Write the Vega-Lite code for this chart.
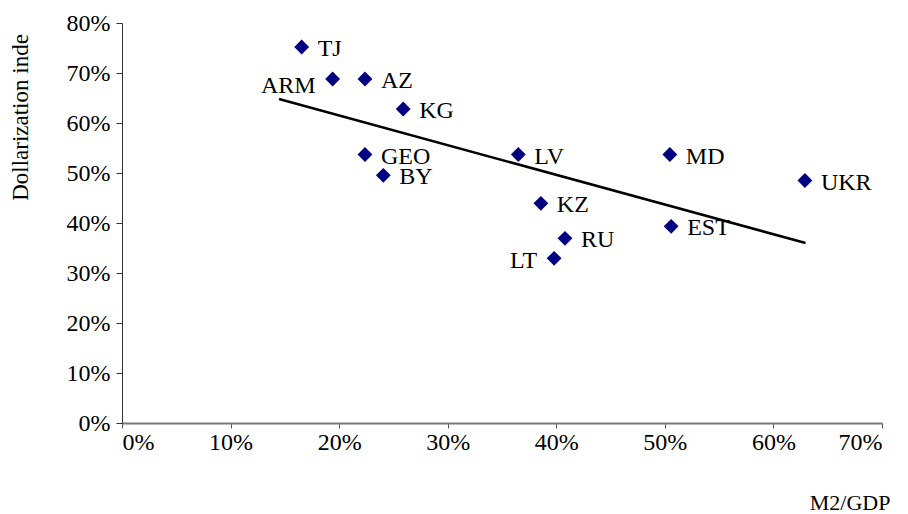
{
  "$schema": "https://vega.github.io/schema/vega-lite/v6.json",
  "width": 760,
  "height": 400,
  "autosize": {"type": "none"},
  "padding": {"left": 122, "top": 23, "right": 26, "bottom": 91},
  "background": "white",
  "config": {
    "view": {"stroke": null},
    "font": "Liberation Serif",
    "axis": {"grid": false, "labelFont": "Liberation Serif", "titleFont": "Liberation Serif", "labelFontSize": 24, "titleFontSize": 22, "titleFontWeight": "normal", "labelColor": "#000", "titleColor": "#000"}
  },
  "datasets": {
    "pts": [
      {"country": "TJ", "m2gdp": 0.1655, "dollar": 0.752},
      {"country": "ARM", "m2gdp": 0.194, "dollar": 0.688},
      {"country": "AZ", "m2gdp": 0.2238, "dollar": 0.688},
      {"country": "KG", "m2gdp": 0.259, "dollar": 0.628},
      {"country": "GEO", "m2gdp": 0.2238, "dollar": 0.537},
      {"country": "BY", "m2gdp": 0.2407, "dollar": 0.4954},
      {"country": "LV", "m2gdp": 0.365, "dollar": 0.537},
      {"country": "MD", "m2gdp": 0.5046, "dollar": 0.537},
      {"country": "UKR", "m2gdp": 0.629, "dollar": 0.485},
      {"country": "KZ", "m2gdp": 0.3858, "dollar": 0.4394},
      {"country": "EST", "m2gdp": 0.5058, "dollar": 0.3934},
      {"country": "RU", "m2gdp": 0.408, "dollar": 0.3694},
      {"country": "LT", "m2gdp": 0.398, "dollar": 0.3294}
    ],
    "trend": [
      {"m2gdp": 0.1446, "dollar": 0.648},
      {"m2gdp": 0.6296, "dollar": 0.36}
    ]
  },
  "layer": [
    {
      "data": {"name": "trend"},
      "mark": {"type": "line", "color": "#000", "strokeWidth": 2.5},
      "encoding": {
        "x": {"field": "m2gdp", "type": "quantitative", "scale": {"domain": [0, 0.7]},
          "axis": {"format": "0%", "values": [0, 0.1, 0.2, 0.3, 0.4, 0.5, 0.6, 0.7], "title": "M2/GDP", "domainColor": "#777", "domainWidth": 2, "tickColor": "#555", "tickSize": 5, "labelPadding": 2,
            "titleX": 768, "titleY": 79, "titleAlign": "right", "titleBaseline": "middle"}},
        "y": {"field": "dollar", "type": "quantitative", "scale": {"domain": [0, 0.8]},
          "axis": {"format": "0%", "values": [0, 0.1, 0.2, 0.3, 0.4, 0.5, 0.6, 0.7, 0.8], "title": "Dollarization inde", "domainColor": "#333", "tickColor": "#333", "tickSize": 6, "labelPadding": 6,
            "titleX": -102, "titleY": 94, "titleAngle": -90, "titleAlign": "center", "titleBaseline": "middle", "titleFontSize": 23}}
      }
    },
    {
      "data": {"name": "pts"},
      "mark": {"type": "point", "shape": "diamond", "filled": true, "color": "#000080", "opacity": 1, "size": 220},
      "encoding": {
        "x": {"field": "m2gdp", "type": "quantitative"},
        "y": {"field": "dollar", "type": "quantitative"}
      }
    },
    {
      "data": {"name": "pts"},
      "transform": [{"filter": "datum.country !== 'ARM' && datum.country !== 'LT'"}],
      "mark": {"type": "text", "align": "left", "baseline": "middle", "dx": 16, "dy": 2, "fontSize": 24, "font": "Liberation Serif", "color": "#000"},
      "encoding": {
        "x": {"field": "m2gdp", "type": "quantitative"},
        "y": {"field": "dollar", "type": "quantitative"},
        "text": {"field": "country"}
      }
    },
    {
      "data": {"name": "pts"},
      "transform": [{"filter": "datum.country === 'ARM'"}],
      "mark": {"type": "text", "align": "right", "baseline": "middle", "dx": -17, "dy": 7, "fontSize": 24, "font": "Liberation Serif", "color": "#000"},
      "encoding": {
        "x": {"field": "m2gdp", "type": "quantitative"},
        "y": {"field": "dollar", "type": "quantitative"},
        "text": {"field": "country"}
      }
    },
    {
      "data": {"name": "pts"},
      "transform": [{"filter": "datum.country === 'LT'"}],
      "mark": {"type": "text", "align": "right", "baseline": "middle", "dx": -17, "dy": 3, "fontSize": 24, "font": "Liberation Serif", "color": "#000"},
      "encoding": {
        "x": {"field": "m2gdp", "type": "quantitative"},
        "y": {"field": "dollar", "type": "quantitative"},
        "text": {"field": "country"}
      }
    }
  ]
}
